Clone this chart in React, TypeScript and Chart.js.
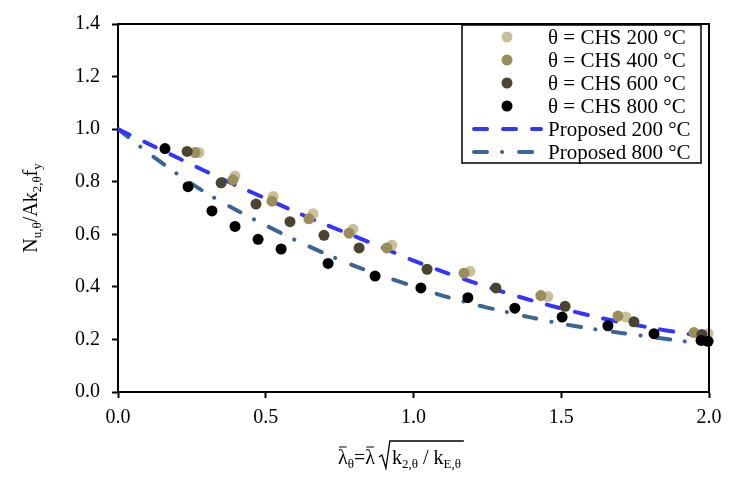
import React, { useEffect, useRef } from "react";
import { Chart, registerables } from "chart.js";

Chart.register(...registerables);

// ---- data ----
const chs200X = [0.274, 0.396, 0.525, 0.66, 0.795, 0.927, 1.191, 1.455, 1.719, 1.997];
const chs200Y = [0.911, 0.822, 0.744, 0.678, 0.619, 0.559, 0.459, 0.363, 0.285, 0.222];

const chs400X = [0.261, 0.389, 0.521, 0.646, 0.782, 0.91, 1.171, 1.431, 1.692, 1.949];
const chs400Y = [0.911, 0.807, 0.726, 0.659, 0.604, 0.548, 0.452, 0.367, 0.289, 0.226];

const chs600X = [0.234, 0.349, 0.467, 0.582, 0.697, 0.816, 1.046, 1.279, 1.513, 1.746, 1.976];
const chs600Y = [0.915, 0.796, 0.715, 0.648, 0.596, 0.548, 0.467, 0.396, 0.326, 0.267, 0.219];

const chs800X = [0.159, 0.237, 0.318, 0.396, 0.474, 0.552, 0.711, 0.87, 1.025, 1.184, 1.343, 1.503, 1.658, 1.814, 1.973, 1.997];
const chs800Y = [0.926, 0.781, 0.689, 0.63, 0.581, 0.544, 0.489, 0.441, 0.396, 0.359, 0.319, 0.285, 0.252, 0.222, 0.196, 0.193];

const curveX = [0, 0.1, 0.2, 0.3, 0.4, 0.5, 0.6, 0.7, 0.8, 0.9, 1.0, 1.1, 1.2, 1.3, 1.4, 1.5, 1.6, 1.7, 1.8, 1.9, 2.0];
const proposed200 = [1.0, 0.946, 0.892, 0.838, 0.786, 0.736, 0.686, 0.638, 0.593, 0.547, 0.5, 0.458, 0.418, 0.382, 0.348, 0.318, 0.29, 0.266, 0.245, 0.226, 0.21];
const proposed800 = [1.0, 0.912, 0.83, 0.756, 0.692, 0.634, 0.578, 0.527, 0.48, 0.44, 0.402, 0.366, 0.335, 0.308, 0.283, 0.26, 0.241, 0.225, 0.21, 0.195, 0.182];

const xTicks = [0, 0.5, 1.0, 1.5, 2.0];
const yTicks = [0, 0.2, 0.4, 0.6, 0.8, 1.0, 1.2, 1.4];

const seriesLabels = [
  "θ = CHS 200 °C",
  "θ = CHS 400 °C",
  "θ = CHS 600 °C",
  "θ = CHS 800 °C",
  "Proposed 200 °C",
  "Proposed 800 °C",
];

// ---- styling ----
const SERIF = '"Liberation Serif", "Times New Roman", serif';
const COL200 = "#c9c09a";
const COL400 = "#9a8f58";
const COL600 = "#4b4430";
const COL800 = "#000000";
const BLUE = "#3434ff";
const STEEL = "#3b6597";
const DASH_200 = [13, 16];
const DASH_800 = [13, 15, 0.1, 17];

const pts = (xs: number[], ys: number[]) => xs.map((x, i) => ({ x, y: ys[i] }));

type Run = { t: string; sub?: boolean };

function drawRuns(ctx: CanvasRenderingContext2D, runs: Run[], x: number, y: number, main: number, sub: number, subDrop: number) {
  let cx = x;
  const spans: number[][] = [];
  for (const r of runs) {
    ctx.font = `${r.sub ? sub : main}px ${SERIF}`;
    ctx.fillText(r.t, cx, r.sub ? y + subDrop : y);
    const w = ctx.measureText(r.t).width;
    spans.push([cx, cx + w]);
    cx += w;
  }
  return { end: cx, spans };
}

function measureRuns(ctx: CanvasRenderingContext2D, runs: Run[], main: number, sub: number) {
  let w = 0;
  for (const r of runs) {
    ctx.font = `${r.sub ? sub : main}px ${SERIF}`;
    w += ctx.measureText(r.t).width;
  }
  return w;
}

const decorPlugin = {
  id: "decor",
  afterDatasetsDraw(chart: any) {
    const { ctx, chartArea } = chart;
    const { left, right, top, bottom } = chartArea;
    ctx.save();

    // frame around the plot area
    ctx.strokeStyle = "#000";
    ctx.lineWidth = 2;
    ctx.beginPath();
    ctx.moveTo(left, top);
    ctx.lineTo(right, top);
    ctx.lineTo(right, bottom);
    ctx.stroke();

    // legend box
    const lx = 462, ly = 25, lw = 239, lh = 138;
    ctx.fillStyle = "#fff";
    ctx.fillRect(lx, ly, lw, lh);
    ctx.lineWidth = 1.5;
    ctx.strokeStyle = "#000";
    ctx.strokeRect(lx, ly, lw, lh);

    const markerColors = [COL200, COL400, COL600, COL800];
    ctx.textBaseline = "middle";
    ctx.textAlign = "left";
    seriesLabels.forEach((label, i) => {
      const ry = 37 + i * 23;
      if (i < 4) {
        ctx.fillStyle = markerColors[i];
        ctx.beginPath();
        ctx.arc(507, ry, 5.5, 0, Math.PI * 2);
        ctx.fill();
      } else {
        ctx.strokeStyle = i === 4 ? BLUE : STEEL;
        ctx.lineWidth = 4;
        ctx.lineCap = "round";
        ctx.setLineDash(i === 4 ? DASH_200 : DASH_800);
        ctx.beginPath();
        ctx.moveTo(474, ry);
        ctx.lineTo(541, ry);
        ctx.stroke();
        ctx.setLineDash([]);
        ctx.lineCap = "butt";
      }
      ctx.fillStyle = "#000";
      ctx.font = `21px ${SERIF}`;
      ctx.fillText(label, 548, ry + 1);
    });

    // x-axis title: λ̄θ = λ̄ √(k2,θ / kE,θ)
    ctx.textBaseline = "alphabetic";
    ctx.fillStyle = "#000";
    ctx.strokeStyle = "#000";
    ctx.lineWidth = 1;
    const base = 464;
    const partA: Run[] = [{ t: "λ" }, { t: "θ", sub: true }, { t: "=" }, { t: "λ" }];
    const a = drawRuns(ctx, partA, 338, base, 20, 13, 4);
    // bars over both lambdas
    [a.spans[0], a.spans[3]].forEach(([s, e]) => {
      ctx.beginPath();
      ctx.moveTo(s + 1, base - 17);
      ctx.lineTo(e - 1, base - 17);
      ctx.stroke();
    });
    const rx = a.end + 4;
    const partB: Run[] = [
      { t: "k" }, { t: "2,θ", sub: true }, { t: " / " }, { t: "k" }, { t: "E,θ", sub: true },
    ];
    const radStart = rx + 13;
    const b = drawRuns(ctx, partB, radStart, base, 20, 13, 4);
    ctx.lineWidth = 1.3;
    ctx.beginPath();
    ctx.moveTo(rx, base - 7);
    ctx.lineTo(rx + 3, base - 9);
    ctx.lineTo(rx + 7, base + 4);
    ctx.lineTo(rx + 11, base - 23);
    ctx.lineTo(b.end + 3, base - 23);
    ctx.stroke();

    // y-axis title: Nu,θ/Ak2,θfy (rotated)
    const yRuns: Run[] = [
      { t: "N" }, { t: "u,θ", sub: true }, { t: "/Ak" }, { t: "2,θ", sub: true }, { t: "f" }, { t: "y", sub: true },
    ];
    const tw = measureRuns(ctx, yRuns, 20, 13);
    ctx.translate(37, (top + bottom) / 2 + tw / 2);
    ctx.rotate(-Math.PI / 2);
    drawRuns(ctx, yRuns, 0, 0, 20, 13, 4);

    ctx.restore();
  },
};

export default function App() {
  const canvasRef = useRef<HTMLCanvasElement | null>(null);

  useEffect(() => {
    const canvas = canvasRef.current;
    if (!canvas) return;

    const pointSet = (label: string, xs: number[], ys: number[], color: string, order: number) => ({
      label,
      data: pts(xs, ys),
      backgroundColor: color,
      borderColor: color,
      pointRadius: 5.5,
      pointBorderWidth: 0,
      showLine: false,
      clip: false as any,
      order,
    });

    const chart = new Chart(canvas, {
      type: "scatter",
      data: {
        datasets: [
          pointSet(seriesLabels[3], chs800X, chs800Y, COL800, 0),
          pointSet(seriesLabels[2], chs600X, chs600Y, COL600, 1),
          pointSet(seriesLabels[1], chs400X, chs400Y, COL400, 2),
          pointSet(seriesLabels[0], chs200X, chs200Y, COL200, 3),
          {
            label: seriesLabels[4],
            data: pts(curveX, proposed200),
            showLine: true,
            borderColor: BLUE,
            backgroundColor: BLUE,
            borderWidth: 4,
            borderDash: DASH_200,
            borderCapStyle: "round",
            pointRadius: 0,
            tension: 0.3,
            order: 4,
          } as any,
          {
            label: seriesLabels[5],
            data: pts(curveX, proposed800),
            showLine: true,
            borderColor: STEEL,
            backgroundColor: STEEL,
            borderWidth: 4,
            borderDash: DASH_800,
            borderCapStyle: "round",
            pointRadius: 0,
            tension: 0.3,
            order: 5,
          } as any,
        ],
      },
      options: {
        responsive: false,
        animation: false,
        layout: { padding: { top: 14, right: 29, left: 0, bottom: 0 } },
        plugins: {
          legend: { display: false },
          tooltip: { enabled: false },
        },
        scales: {
          x: {
            type: "linear",
            min: 0,
            max: 2,
            afterFit: (s: any) => { s.height = 90; },
            afterBuildTicks: (s: any) => { s.ticks = xTicks.map((v) => ({ value: v })); },
            ticks: {
              color: "#000",
              font: { family: SERIF, size: 20 },
              padding: 8,
              maxRotation: 0,
              callback: (v: any) => Number(v).toFixed(1),
            },
            grid: {
              drawOnChartArea: false,
              drawTicks: true,
              tickLength: 6,
              tickColor: "#000",
              tickWidth: 2,
            },
            border: { display: true, color: "#000", width: 2 },
          },
          y: {
            type: "linear",
            min: 0,
            max: 1.4,
            afterFit: (s: any) => { s.width = 118; },
            afterBuildTicks: (s: any) => { s.ticks = yTicks.map((v) => ({ value: v })); },
            ticks: {
              color: "#000",
              font: { family: SERIF, size: 20 },
              padding: 12,
              callback: (v: any) => Number(v).toFixed(1),
            },
            grid: {
              drawOnChartArea: false,
              drawTicks: true,
              tickLength: 6,
              tickColor: "#000",
              tickWidth: 2,
            },
            border: { display: true, color: "#000", width: 2 },
          },
        },
      },
      plugins: [decorPlugin],
    });

    return () => chart.destroy();
  }, []);

  return (
    <div style={{ position: "absolute", left: 0, top: 0, width: 738, height: 482, background: "#fff" }}>
      <canvas ref={canvasRef} width={738} height={482} style={{ display: "block" }} />
    </div>
  );
}
